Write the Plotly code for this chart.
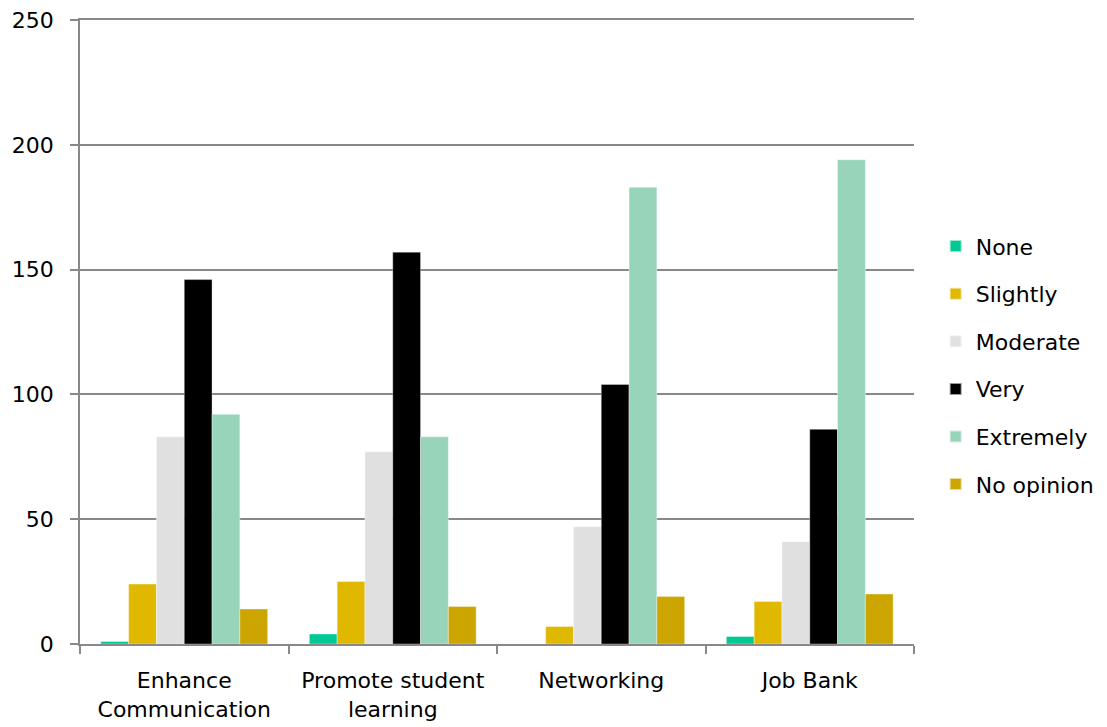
import plotly.graph_objects as go

categories = ["Enhance<br>Communication", "Promote student<br>learning", "Networking", "Job Bank"]
series_names = ["None", "Slightly", "Moderate", "Very", "Extremely", "No opinion"]
none_vals = [1, 4, 0, 3]
slightly_vals = [24, 25, 7, 17]
moderate_vals = [83, 77, 47, 41]
very_vals = [146, 157, 104, 86]
extremely_vals = [92, 83, 183, 194]
noopinion_vals = [14, 15, 19, 20]
y_ticks = [0, 50, 100, 150, 200, 250]

colors = ["#00C994", "#E1B800", "#E0E0E0", "#000000", "#97D4B9", "#CCA500"]
values = [none_vals, slightly_vals, moderate_vals, very_vals, extremely_vals, noopinion_vals]

fig = go.Figure()
for i, (name, vals, col) in enumerate(zip(series_names, values, colors)):
    fig.add_trace(go.Bar(
        x=categories, y=vals, name=name, legendgroup=name,
        marker=dict(color=col, line=dict(color="rgba(255,255,255,0.6)", width=0.6)),
    ))

font_family = "Tahoma, 'DejaVu Sans', Verdana, sans-serif"
fig.update_layout(
    width=1099, height=719,
    margin=dict(l=72, r=193, t=12, b=83, autoexpand=False),
    barmode="group", bargap=0.2, bargroupgap=0,
    plot_bgcolor="white", paper_bgcolor="white",
    font=dict(family=font_family, size=22, color="black"),
    legend=dict(x=1.026, xanchor="left", y=0.671, yanchor="top",
                font=dict(size=22), tracegroupgap=16, itemsizing="constant"),
    xaxis=dict(showline=True, mirror=True, linecolor="#888888", linewidth=1.5, automargin=False,
               ticks="outside", tickson="boundaries", ticklen=8, tickcolor="#888888",
               tickwidth=1.5, showgrid=False, ticklabelstandoff=16),
    yaxis=dict(range=[0, 250], tickvals=y_ticks, showline=True, linecolor="#888888",
               linewidth=1.5, ticks="outside", ticklen=8, tickcolor="#888888", tickwidth=1.5,
               showgrid=True, gridcolor="#888888", gridwidth=1.5, zeroline=False,
               automargin=False, ticklabelstandoff=12, ticklabeloverflow="allow"),
)
fig.write_html("out.html")
